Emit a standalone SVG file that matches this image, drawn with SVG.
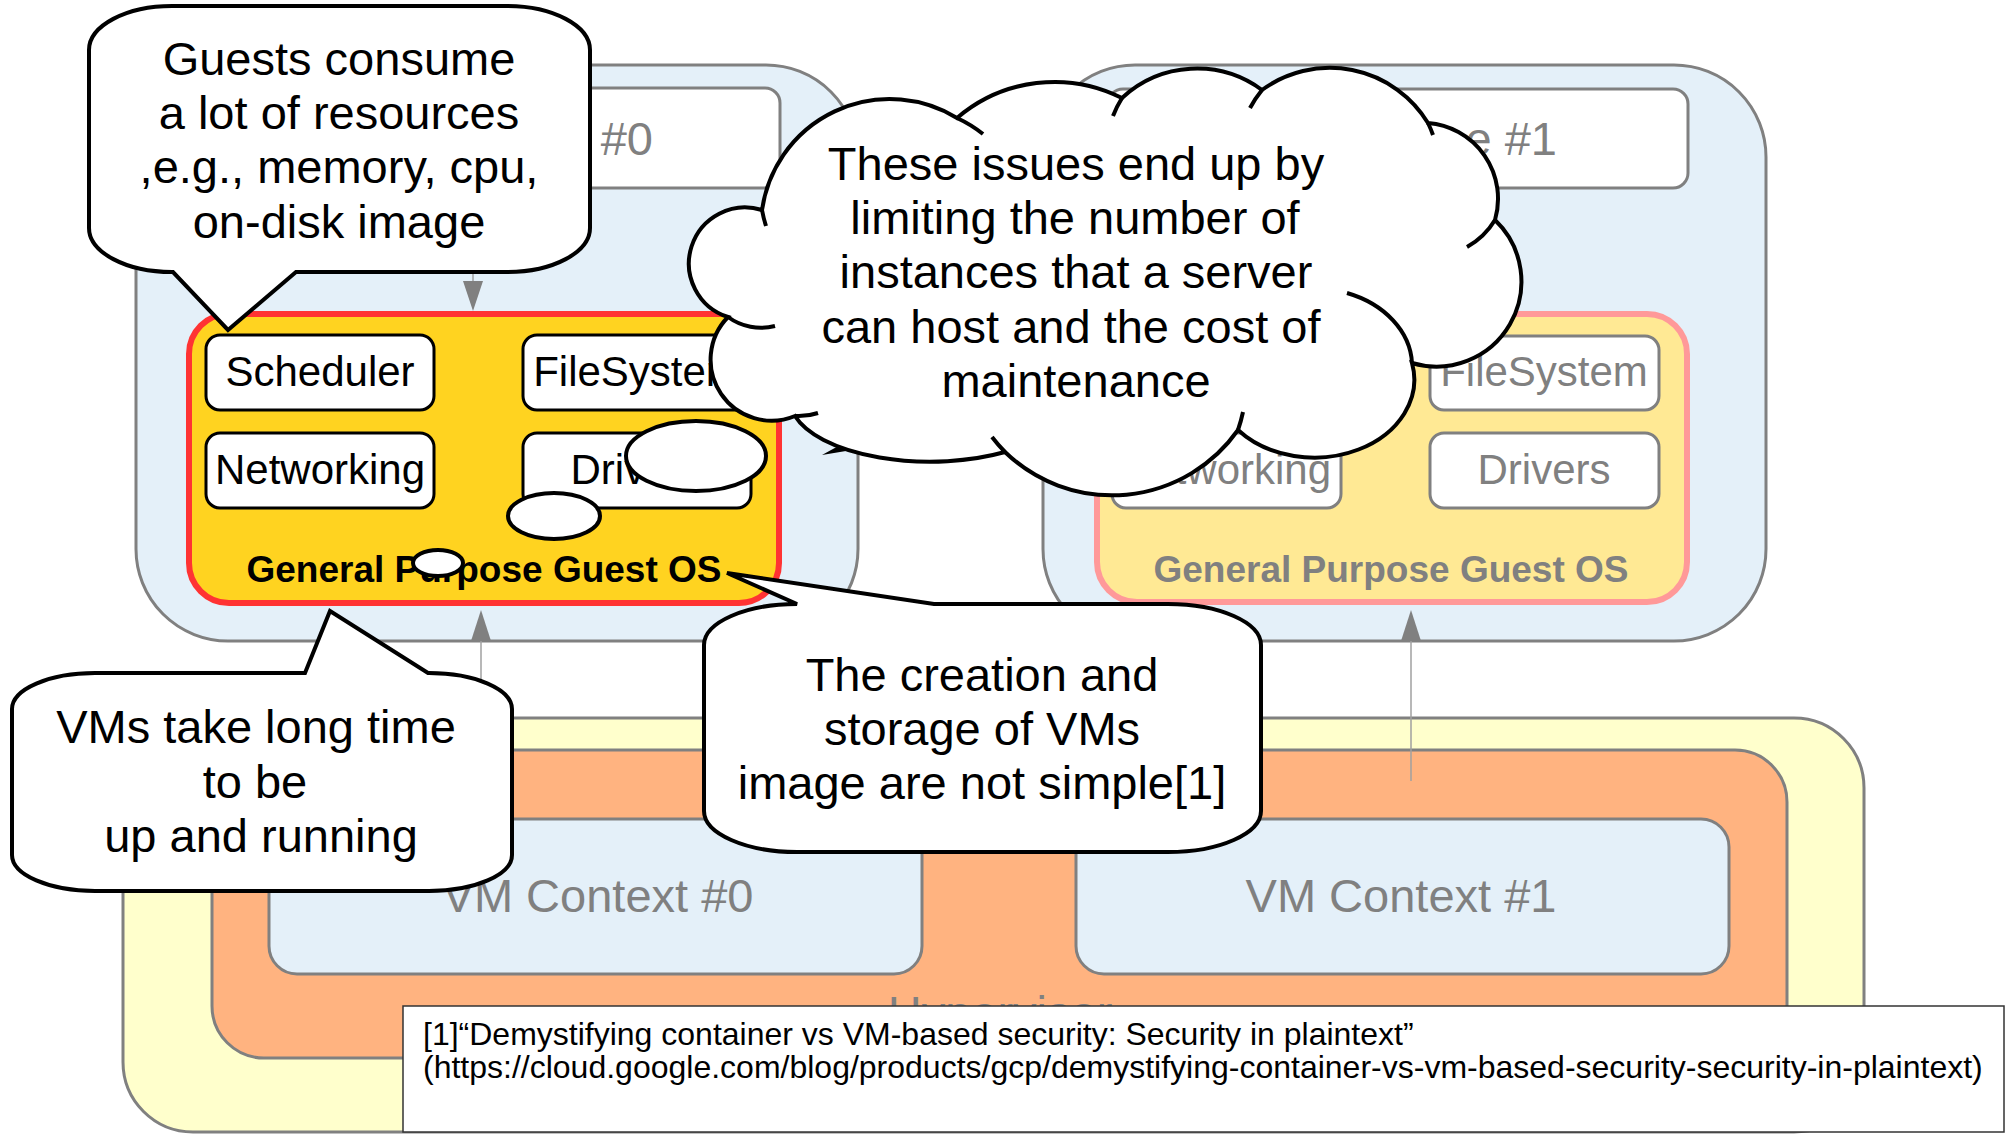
<svg xmlns="http://www.w3.org/2000/svg" width="2006" height="1135" viewBox="0 0 2006 1135">
  <defs>
    <style>
      text { font-family: "Liberation Sans", Arial, sans-serif; }
      .host { fill: #FFFFCC; stroke: #808080; stroke-width: 3; }
      .hyp { fill: #FFB380; stroke: #808080; stroke-width: 3; }
      .vm { fill: #E4F0F9; stroke: #808080; stroke-width: 3; }
      .title { fill: #FFFFFF; stroke: #808080; stroke-width: 3; }
      .os-on { fill: #FFD320; stroke: #FF3333; stroke-width: 6; }
      .os-off { fill: #FFE994; stroke: #FF9999; stroke-width: 6; }
      .mod-on { fill: #FFFFFF; stroke: #000000; stroke-width: 3; }
      .mod-off { fill: #FFFFFF; stroke: #808080; stroke-width: 3; }
      .lbl-gray { fill: #808080; font-size: 47px; text-anchor: middle; }
      .tag-gray { fill: #808080; font-size: 47px; text-anchor: end; }
      .mod-txt { font-size: 42px; text-anchor: middle; }
      .os-txt { font-size: 37px; font-weight: bold; text-anchor: middle; }
      .bubble { fill: #FFFFFF; stroke: #000000; stroke-width: 4; stroke-linejoin: miter; }
      .seam { fill: none; stroke: #000000; stroke-width: 4; }
      .say { fill: #000000; font-size: 47px; text-anchor: middle; }
      .link { stroke: #A0A0A0; stroke-width: 1.5; fill: none; }
      .head { fill: #808080; }
    </style>
  </defs>

  <!-- physical host and hypervisor layers -->
  <g id="host">
    <rect class="host" x="123" y="718" width="1741" height="414" rx="70" ry="70"/>
  </g>
  <g id="hypervisor">
    <rect class="hyp" x="212" y="750" width="1575" height="308" rx="52" ry="52"/>
    <text class="lbl-gray" x="1000" y="1029">Hypervisor</text>
  </g>
  <g id="vm-context-0">
    <rect class="vm" x="269" y="819" width="653" height="155" rx="28" ry="28"/>
    <text class="lbl-gray" x="598" y="912">VM Context #0</text>
  </g>
  <g id="vm-context-1">
    <rect class="vm" x="1076" y="819" width="653" height="155" rx="28" ry="28"/>
    <text class="lbl-gray" x="1401" y="912">VM Context #1</text>
  </g>

  <!-- virtual machine #0 (title mostly under the callout) -->
  <g id="vm-0">
    <rect class="vm" x="136" y="65" width="722" height="576" rx="92" ry="92"/>
    <rect class="title" x="200" y="88" width="580" height="100" rx="15" ry="15"/>
    <text class="tag-gray" x="653" y="155">#0</text>
  </g>
  <g id="guest-os-0">
    <rect class="os-on" x="189" y="314" width="590" height="289" rx="40" ry="40"/>
    <text class="os-txt" x="484" y="582" fill="#000000">General Purpose Guest OS</text>
  </g>
  <g id="scheduler-0">
    <rect class="mod-on" x="206" y="335" width="228" height="75" rx="14" ry="14"/>
    <text class="mod-txt" x="320" y="386" fill="#000000">Scheduler</text>
  </g>
  <g id="filesystem-0">
    <rect class="mod-on" x="523" y="335" width="228" height="75" rx="14" ry="14"/>
    <text class="mod-txt" x="637" y="386" fill="#000000">FileSystem</text>
  </g>
  <g id="networking-0">
    <rect class="mod-on" x="206" y="433" width="228" height="75" rx="14" ry="14"/>
    <text class="mod-txt" x="320" y="484" fill="#000000">Networking</text>
  </g>
  <g id="drivers-0">
    <rect class="mod-on" x="523" y="433" width="228" height="75" rx="14" ry="14"/>
    <text class="mod-txt" x="637" y="484" fill="#000000">Drivers</text>
  </g>

  <!-- virtual machine #1 (title mostly under the cloud) -->
  <g id="vm-1">
    <rect class="vm" x="1043" y="65" width="723" height="576" rx="92" ry="92"/>
    <rect class="title" x="1108" y="89" width="580" height="99" rx="15" ry="15"/>
    <text class="tag-gray" x="1557" y="155">ce #1</text>
  </g>
  <g id="guest-os-1">
    <rect class="os-off" x="1097" y="314" width="590" height="288" rx="40" ry="40"/>
    <text class="os-txt" x="1391" y="582" fill="#808080">General Purpose Guest OS</text>
  </g>
  <g id="filesystem-1">
    <rect class="mod-off" x="1430" y="336" width="229" height="74" rx="14" ry="14"/>
    <text class="mod-txt" x="1544" y="386" fill="#808080">FileSystem</text>
  </g>
  <g id="networking-1">
    <rect class="mod-off" x="1112" y="433" width="229" height="75" rx="14" ry="14"/>
    <text class="mod-txt" x="1226" y="484" fill="#808080">Networking</text>
  </g>
  <g id="drivers-1">
    <rect class="mod-off" x="1430" y="433" width="229" height="75" rx="14" ry="14"/>
    <text class="mod-txt" x="1544" y="484" fill="#808080">Drivers</text>
  </g>

  <!-- connectors -->
  <g id="connectors">
    <line class="link" x1="473" y1="189" x2="473" y2="284"/>
    <polygon class="head" points="463,281 483,281 473,311"/>
    <line class="link" x1="481" y1="781" x2="481" y2="638"/>
    <polygon class="head" points="471,641 491,641 481,610"/>
    <line class="link" x1="1411" y1="781" x2="1411" y2="638"/>
    <polygon class="head" points="1401,641 1421,641 1411,610"/>
  </g>

  <!-- thought bubble trail -->
  <g id="thought-trail">
    <ellipse class="bubble" cx="696" cy="456" rx="70" ry="35"/>
    <ellipse class="bubble" cx="554" cy="516" rx="46" ry="23"/>
    <ellipse class="bubble" cx="438" cy="563" rx="25" ry="13"/>
    <polygon points="822,455 842,444 846,451" fill="#000000"/>
  </g>

  <!-- cloud: limits on instances -->
  <g id="cloud-limits">
    <path class="bubble" d="M 762 210 A 129 129 0 0 1 957 118 A 150 150 0 0 1 1122 98 A 110 110 0 0 1 1262 90 A 115 115 0 0 1 1428 123 A 76 76 0 0 1 1495 220 A 85 85 0 0 1 1412 363 A 100 78 0 0 1 1238 430 A 154 154 0 0 1 1005 452 A 140 62 0 0 1 795 416 A 61 61 0 0 1 728 317 A 56 56 0 0 1 762 210 Z"/>
    <path class="seam" d="M 766 226 A 129 129 0 0 1 762 210 M 957 118 A 129 129 0 0 1 983 134 M 1113 116 A 110 110 0 0 1 1122 98 M 1250 108 A 115 115 0 0 1 1262 90 M 1428 123 A 115 115 0 0 1 1433 135 M 1495 220 A 76 76 0 0 1 1467 247 M 1347 293 A 100 78 0 0 1 1412 363 M 1243 412 A 154 154 0 0 1 1238 430 M 1005 452 A 154 154 0 0 1 992 437 M 818 413 A 61 61 0 0 1 795 416 M 775 326 A 56 56 0 0 1 728 317"/>
    <text class="say" x="1076" y="179.8">These issues end up by</text>
    <text class="say" x="1075" y="234.1">limiting the number of</text>
    <text class="say" x="1076" y="288.4">instances that a server</text>
    <text class="say" x="1071" y="342.7">can host and the cost of</text>
    <text class="say" x="1076" y="397">maintenance</text>
  </g>

  <!-- callout: resource consumption -->
  <g id="callout-resources">
    <path class="bubble" d="M 172 6 H 507 A 83 44 0 0 1 590 50 V 228 A 83 44 0 0 1 507 272 H 296 L 228 330 L 173 272 H 172 A 83 44 0 0 1 89 228 V 50 A 83 44 0 0 1 172 6 Z"/>
    <text class="say" x="339" y="74.6">Guests consume</text>
    <text class="say" x="339" y="128.9">a lot of resources</text>
    <text class="say" x="339" y="183.2">,e.g., memory, cpu,</text>
    <text class="say" x="339" y="237.5">on-disk image</text>
  </g>

  <!-- callout: boot time -->
  <g id="callout-boot">
    <path class="bubble" d="M 95 673 H 305 L 330 611 L 428 673 H 429 A 83 36 0 0 1 512 709 V 855 A 83 36 0 0 1 429 891 H 95 A 83 36 0 0 1 12 855 V 709 A 83 36 0 0 1 95 673 Z"/>
    <text class="say" x="256" y="743.4">VMs take long time</text>
    <text class="say" x="255" y="797.7">to be</text>
    <text class="say" x="261" y="852">up and running</text>
  </g>

  <!-- callout: image handling -->
  <g id="callout-images">
    <path class="bubble" d="M 797 604 L 727 573 L 934 604 H 1168 A 93 41 0 0 1 1261 645 V 811 A 93 41 0 0 1 1168 852 H 797 A 93 41 0 0 1 704 811 V 645 A 93 41 0 0 1 797 604 Z"/>
    <text class="say" x="982" y="690.7">The creation and</text>
    <text class="say" x="982" y="745">storage of VMs</text>
    <text class="say" x="982" y="799.3">image are not simple[1]</text>
  </g>

  <!-- reference note -->
  <g id="reference">
    <rect x="403" y="1006" width="1601" height="126" fill="#FFFFFF" stroke="#333333" stroke-width="1.5"/>
    <text x="423" y="1045" font-size="32" fill="#000000">[1]“Demystifying container vs VM-based security: Security in plaintext”</text>
    <text x="423" y="1078" font-size="32" fill="#000000">(https://cloud.google.com/blog/products/gcp/demystifying-container-vs-vm-based-security-security-in-plaintext)</text>
  </g>
</svg>
